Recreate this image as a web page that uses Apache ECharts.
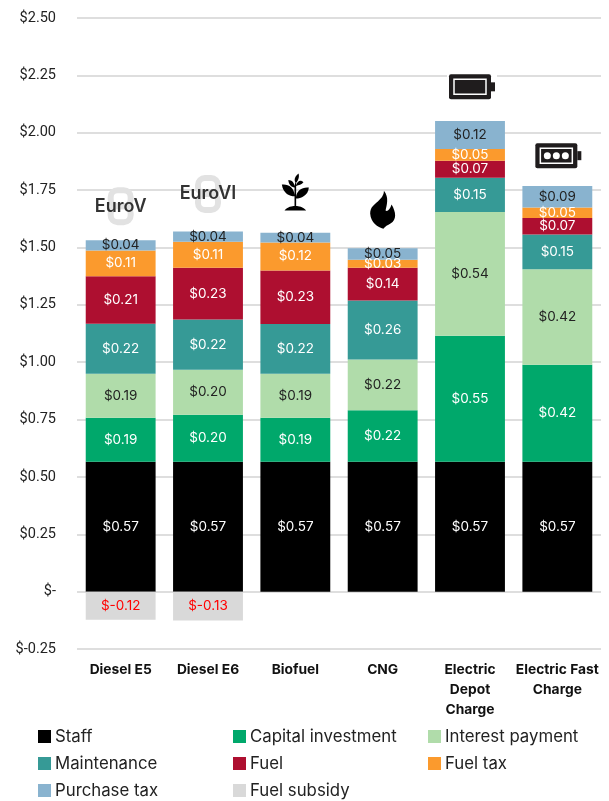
<!DOCTYPE html>
<html>
<head>
<meta charset="utf-8">
<style>
  html, body { margin: 0; padding: 0; background: #fff; }
  #chart { width: 609px; height: 801px; }
</style>
<script src="https://cdn.jsdelivr.net/npm/echarts@6/dist/echarts.min.js"></script>
</head>
<body>
<div id="chart"></div>
<script>
const categories = ['Diesel E5', 'Diesel E6', 'Biofuel', 'CNG', 'Electric\nDepot\nCharge', 'Electric Fast\nCharge']
const staff = [0.566, 0.566, 0.566, 0.566, 0.566, 0.566]
const capital = [0.192, 0.205, 0.192, 0.224, 0.549, 0.423]
const interest = [0.192, 0.196, 0.192, 0.222, 0.539, 0.416]
const maintenance = [0.217, 0.219, 0.216, 0.257, 0.15, 0.152]
const fuel = [0.208, 0.226, 0.234, 0.143, 0.074, 0.071]
const fuelTax = [0.112, 0.113, 0.122, 0.034, 0.051, 0.046]
const purchaseTax = [0.044, 0.044, 0.042, 0.051, 0.122, 0.094]
const fuelSubsidy = [-0.122, -0.126, null, null, null, null]
// where each icon sits on the value axis
const iconY = [1.68, 1.733, 1.742, 1.664, 2.2, 1.9]
const iconKinds = ['euro5', 'euro6', 'plant', 'flame', 'battery', 'batteryDots']

const FONT = 'Inter'
const money = (v) => {
  if (v === 0) return '$-'
  return v < 0 ? '$-' + Math.abs(v).toFixed(2) : '$' + v.toFixed(2)
}

const stackSeries = (name, data, color, labelColor) => ({
  name,
  type: 'bar',
  stack: 'cost',
  barWidth: '80%',
  data,
  itemStyle: { color },
  label: {
    show: true,
    position: 'inside',
    color: labelColor,
    fontFamily: FONT,
    fontSize: 13.5,
    formatter: (p) => p.value == null ? '' : money(Number(p.value))
  }
})

const PLANT = 'M10 100 C20 90 40 88 47 88 L47 62 C30 62 5 55 0 30 C25 28 45 38 47 58 L47 38 C35 38 25 30 24 18 C38 18 46 26 47 34 L50 24 C44 16 50 6 62 0 C66 10 60 20 53 25 L53 32 C58 20 70 16 80 24 C74 30 62 32 53 34 L53 64 C55 46 75 36 100 38 C98 60 70 68 53 68 L53 88 C60 88 80 90 90 100 Z'
const FLAME = 'M52 0 C72 18 62 38 58 52 C64 56 74 50 80 36 C96 56 100 76 76 86 C66 90 56 94 50 100 C30 96 4 84 2 60 C2 42 18 36 30 28 C42 20 52 12 52 0 Z'

const euroIcon = (c, text) => ({
  type: 'group',
  children: [
    { type: 'rect', shape: { x: c[0] - 10, y: c[1] - 16, width: 20, height: 16, r: 7 }, style: { fill: 'none', stroke: '#e2e2e2', lineWidth: 6 } },
    { type: 'rect', shape: { x: c[0] - 10, y: c[1], width: 20, height: 16, r: 7 }, style: { fill: 'none', stroke: '#e2e2e2', lineWidth: 6 } },
    { type: 'text', style: { x: c[0], y: c[1], text, align: 'center', verticalAlign: 'middle', fill: '#333', fontFamily: FONT, fontWeight: 600, fontSize: 18 } }
  ]
})

const batteryIcon = (c, dots) => {
  const x = c[0] - 21, y = c[1] - 12.5
  const children = [
    { type: 'rect', shape: { x: x - 2, y: y - 2, width: 50, height: 29 }, style: { fill: '#fff' } },
    { type: 'rect', shape: { x, y, width: 42, height: 25, r: 2 }, style: { fill: '#1f1c1d' } },
    { type: 'rect', shape: { x: x + 42, y: y + 8, width: 4, height: 9 }, style: { fill: '#1f1c1d' } },
    { type: 'rect', shape: { x: x + 5, y: y + 5, width: 32, height: 15 }, style: { fill: '#1f1c1d', stroke: '#fff', lineWidth: 1.5 } }
  ]
  if (dots) {
    [12, 21, 30].forEach((d) => {
      children.push({ type: 'circle', shape: { cx: x + d, cy: y + 12.5, r: 3.5 }, style: { fill: '#fff' } })
    })
  }
  return { type: 'group', children }
}

const pathIcon = (c, pathData, w, h) => ({
  type: 'path',
  shape: { pathData, x: c[0] - w / 2, y: c[1] - h / 2, width: w, height: h, layout: 'cover' },
  style: { fill: '#000' }
})

const renderIcon = (params, api) => {
  const c = api.coord([api.value(0), api.value(1)])
  const kind = iconKinds[params.dataIndex]
  if (kind === 'euro5') return euroIcon(c, 'EuroV')
  if (kind === 'euro6') return euroIcon(c, 'EuroVI')
  if (kind === 'plant') return pathIcon(c, PLANT, 27, 37)
  if (kind === 'flame') return pathIcon(c, FLAME, 25, 38)
  if (kind === 'battery') return batteryIcon(c, false)
  return batteryIcon([c[0] - 1, c[1]], true)
}

const legendBase = {
  orient: 'vertical',
  top: 727,
  padding: 0,
  itemWidth: 13,
  itemHeight: 13,
  itemGap: 8,
  icon: 'rect',
  textStyle: { fontFamily: FONT, fontSize: 16.8, color: '#222', padding: [0, 0, 0, -1], lineHeight: 19 },
  selectedMode: false
}

const myChart = echarts.init(document.getElementById('chart'), null, { renderer: 'canvas' })
myChart.setOption({
  animation: false,
  backgroundColor: '#fff',
  grid: { left: 77, right: 8, top: 18, bottom: 152 },
  legend: [
    { ...legendBase, left: 38, data: ['Staff', 'Maintenance', 'Purchase tax'] },
    { ...legendBase, left: 233, data: ['Capital investment', 'Fuel', 'Fuel subsidy'] },
    { ...legendBase, left: 428, data: ['Interest payment', 'Fuel tax'] }
  ],
  xAxis: {
    type: 'category',
    data: categories,
    axisLine: { show: false, onZero: false },
    axisTick: { show: false },
    axisLabel: {
      interval: 0,
      margin: 11,
      color: '#111',
      fontFamily: FONT,
      fontWeight: 700,
      fontSize: 13.8,
      lineHeight: 20,
      verticalAlign: 'top'
    }
  },
  yAxis: {
    type: 'value',
    min: -0.25,
    max: 2.5,
    interval: 0.25,
    axisLine: { show: false },
    axisTick: { show: false },
    splitLine: { lineStyle: { color: '#dedede', width: 2 } },
    axisLabel: {
      margin: 21,
      color: '#222',
      fontFamily: 'Roboto',
      fontSize: 14.5,
      formatter: (v) => money(v)
    }
  },
  series: [
    stackSeries('Staff', staff, '#000000', '#ffffff'),
    stackSeries('Capital investment', capital, '#00a86b', '#ffffff'),
    stackSeries('Interest payment', interest, '#b0dcaa', '#222222'),
    stackSeries('Maintenance', maintenance, '#369a96', '#ffffff'),
    stackSeries('Fuel', fuel, '#ae0f30', '#ffffff'),
    stackSeries('Fuel tax', fuelTax, '#fb9a2d', '#ffffff'),
    stackSeries('Purchase tax', purchaseTax, '#89b3cf', '#222222'),
    stackSeries('Fuel subsidy', fuelSubsidy, '#d9d9d9', '#ff0000'),
    {
      type: 'custom',
      silent: true,
      renderItem: renderIcon,
      data: iconY.map((y, i) => [i, y]),
      z: 5
    }
  ]
})
</script>
</body>
</html>
